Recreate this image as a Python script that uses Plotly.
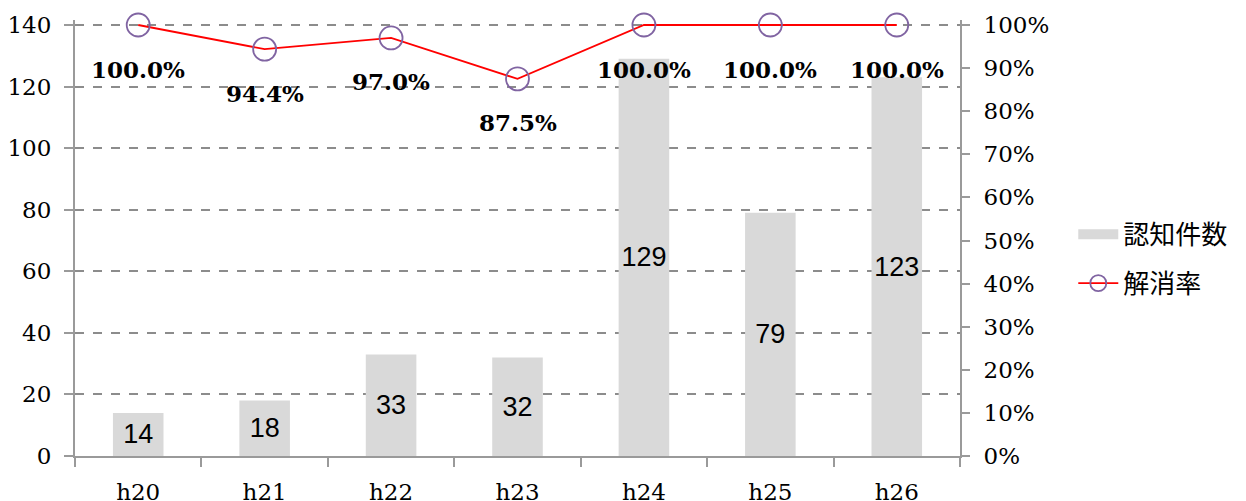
import plotly.graph_objects as go

categories = ["h20", "h21", "h22", "h23", "h24", "h25", "h26"]
counts = [14, 18, 33, 32, 129, 79, 123]
rates = [1.0, 0.944, 0.970, 0.875, 1.0, 1.0, 1.0]
rate_labels = ["100.0%", "94.4%", "97.0%", "87.5%", "100.0%", "100.0%", "100.0%"]
count_name = "認知件数"
rate_name = "解消率"

SERIF = "DejaVu Serif"
AXIS_GRAY = "#9a9a9a"

# slight headroom so the 100% line is not clipped at the plot edge
Y_MAX = 140 * 436 / 431
Y2_MAX = Y_MAX / 140

fig = go.Figure()

fig.add_trace(go.Bar(
    x=categories, y=counts, name=count_name, width=0.4,
    marker=dict(color="#d9d9d9", line=dict(width=0)),
    text=[str(v) for v in counts], textposition="inside",
    insidetextanchor="middle", textangle=0,
    textfont=dict(family="Liberation Sans, Arial", size=27, color="black"),
    showlegend=False, legendgroup="a", yaxis="y",
))

# legend entry for bars (wide gray swatch)
fig.add_trace(go.Scatter(
    x=[None], y=[None], mode="lines", name=count_name, legendgroup="a",
    line=dict(color="#d9d9d9", width=14), yaxis="y",
))

fig.add_trace(go.Scatter(
    x=categories, y=rates, name=rate_name, mode="lines+markers",
    legendgroup="b",
    line=dict(color="#ff0000", width=1.8),
    marker=dict(symbol="circle-open", size=23, color="#8064a2",
                line=dict(color="#8064a2", width=1.8)),
    yaxis="y2", cliponaxis=False,
))

for c, r, lab in zip(categories, rates, rate_labels):
    fig.add_annotation(
        x=c, y=r, xref="x", yref="y2", text=lab, showarrow=False,
        yshift=-44, font=dict(family=SERIF, size=23, color="black", weight="bold"),
    )

fig.update_layout(
    width=1246, height=501,
    margin=dict(l=75, r=286, t=20, b=45),
    paper_bgcolor="white", plot_bgcolor="white",
    uniformtext=dict(minsize=27, mode="show"),
    xaxis=dict(
        type="category", showline=True, linecolor=AXIS_GRAY, linewidth=2,
        ticks="outside", tickson="boundaries", ticklen=9, tickcolor=AXIS_GRAY,
        tickwidth=2, showgrid=False, automargin=False,
        tickfont=dict(family=SERIF, size=23, color="black"),
        ticklabelstandoff=14,
    ),
    yaxis=dict(
        range=[0, Y_MAX], tickvals=[0, 20, 40, 60, 80, 100, 120, 140],
        showline=True, linecolor=AXIS_GRAY, linewidth=2,
        ticks="outside", ticklen=9, tickcolor=AXIS_GRAY, tickwidth=2,
        showgrid=True, gridcolor="#8c8c8c", griddash="dash", gridwidth=1.5,
        zeroline=False, automargin=False,
        tickfont=dict(family=SERIF, size=23, color="black"),
        ticklabelstandoff=8,
    ),
    yaxis2=dict(
        range=[0, Y2_MAX], tickvals=[i / 10 for i in range(11)],
        tickformat=".0%", overlaying="y", side="right",
        showline=True, linecolor=AXIS_GRAY, linewidth=2,
        ticks="outside", ticklen=8, tickcolor=AXIS_GRAY, tickwidth=2,
        showgrid=False, zeroline=False, automargin=False,
        tickfont=dict(family=SERIF, size=23, color="black"),
        ticklabelstandoff=9,
    ),
    legend=dict(
        x=1.128, y=0.452, xanchor="left", yanchor="middle",
        font=dict(family="Noto Sans CJK JP", size=26, color="black"),
        bgcolor="rgba(0,0,0,0)", itemwidth=40,
        traceorder="grouped", tracegroupgap=12,
    ),
)

fig.write_html("out.html", config={"displayModeBar": False},
               post_script="document.body.style.margin='0';")
